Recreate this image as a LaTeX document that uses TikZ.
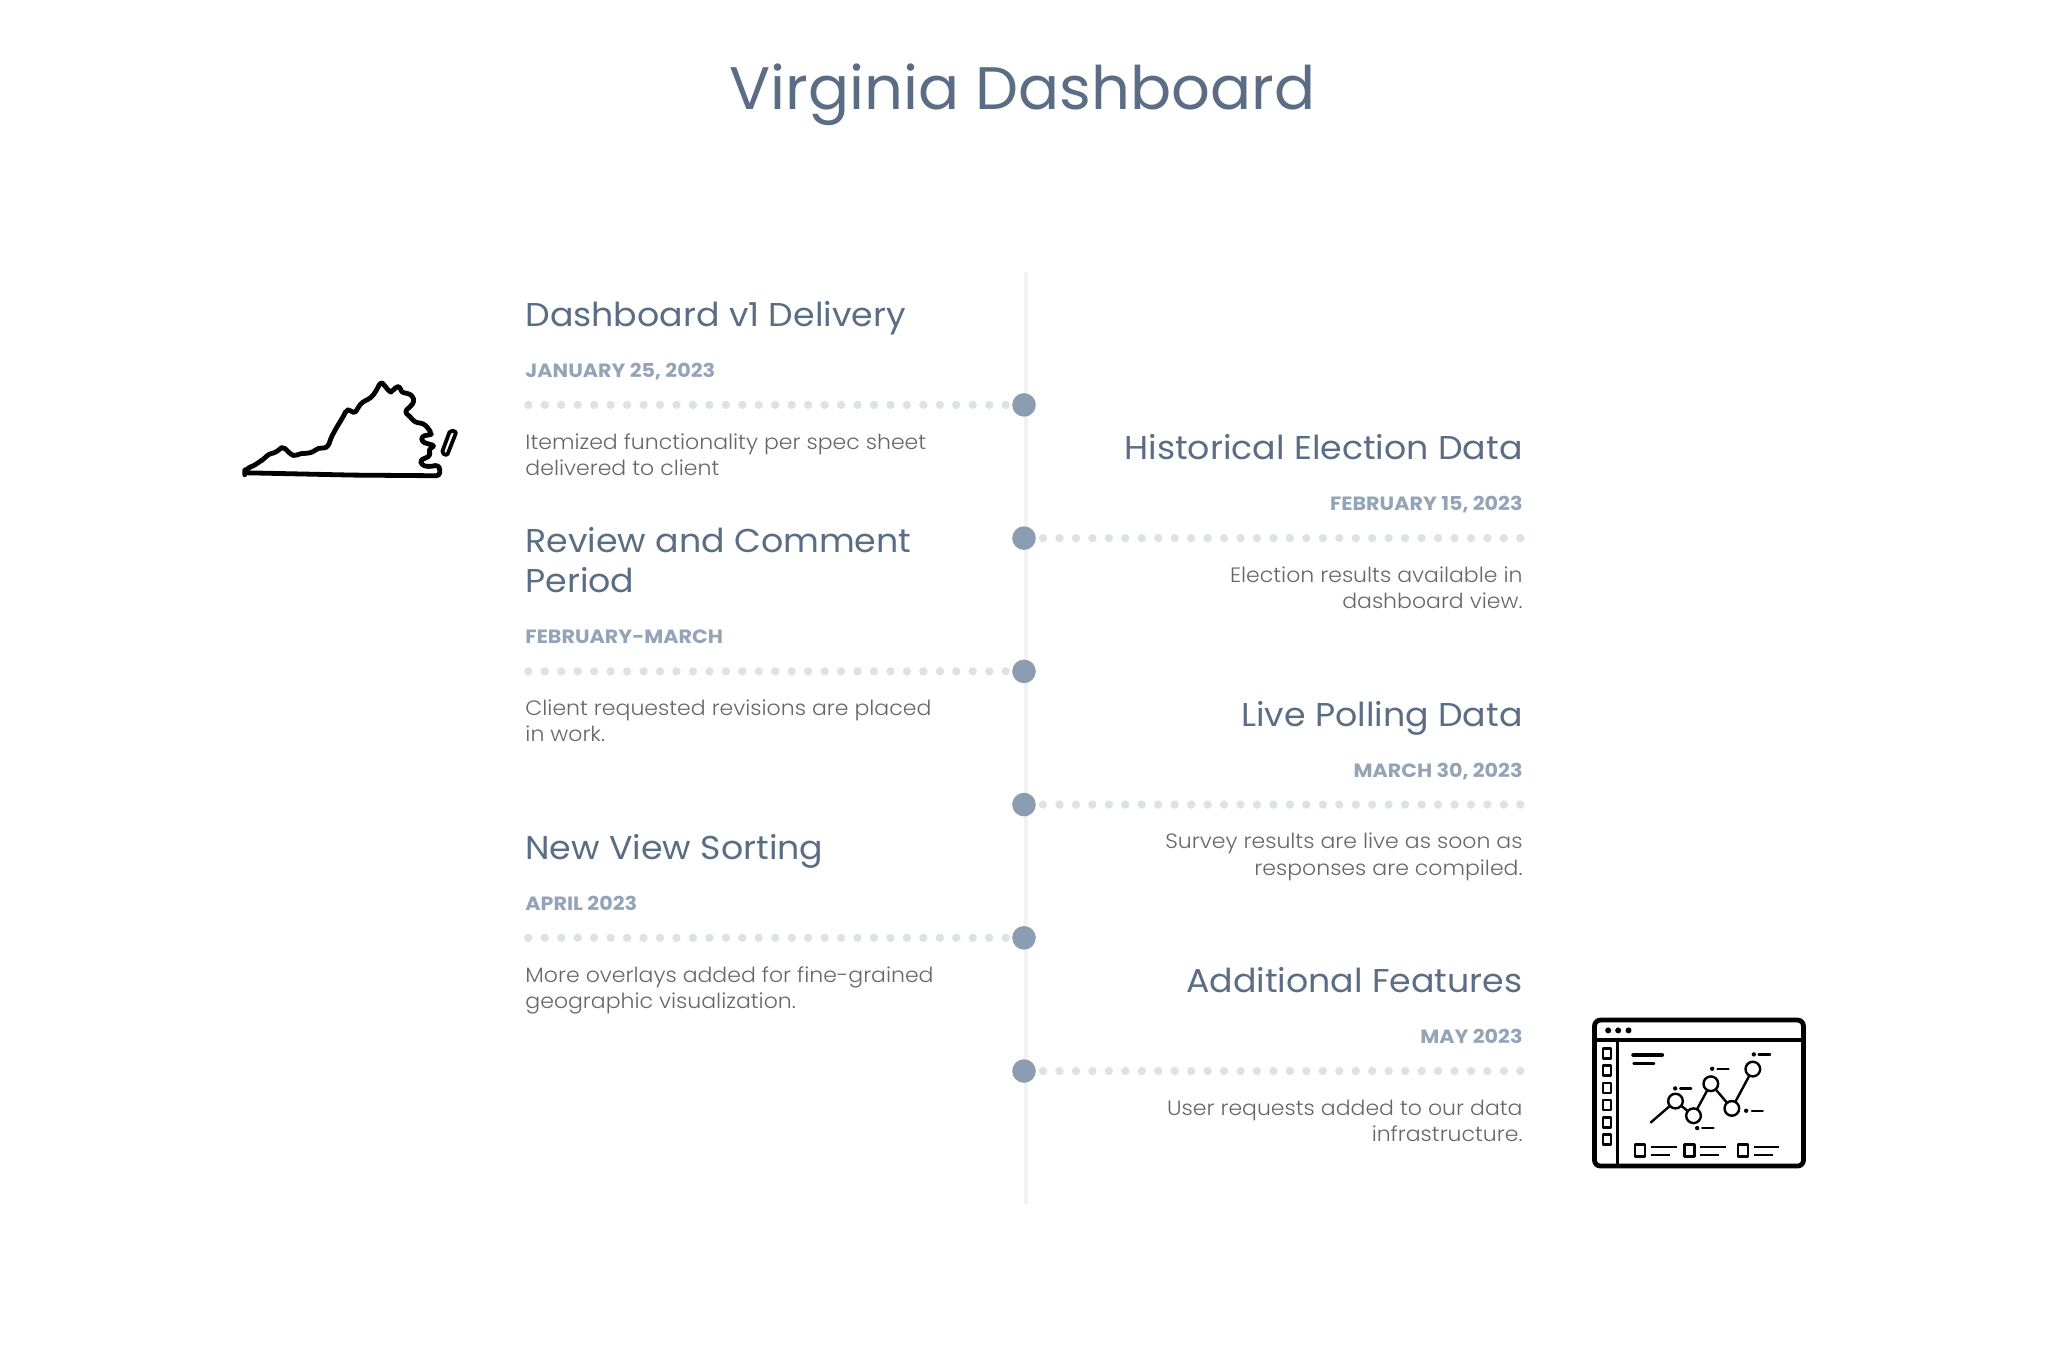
\documentclass[tikz,border=0pt]{standalone}
\usepackage{fontspec}
\setmainfont{Poppins}
\newfontfamily\plight[FakeStretch=1.058]{Poppins Light}
\newfontfamily\phead[FakeStretch=1.054]{Poppins}
\newfontfamily\pdate[FakeStretch=1.078]{Poppins}
\newfontfamily\ptitle[FakeStretch=1.014]{Poppins}
\definecolor{headc}{HTML}{5A6D85}
\definecolor{datec}{HTML}{94A4B8}
\definecolor{bodyc}{HTML}{666666}
\definecolor{dotc}{HTML}{DDE2E9}
\definecolor{markc}{HTML}{8C9DB2}
\definecolor{spine}{HTML}{F1F2F4}
\tikzset{
 titletext/.style={text=headc,font=\ptitle\fontsize{30}{36}\selectfont,inner sep=0pt,anchor=base},
 head/.style={text=headc,font=\phead\fontsize{16.5}{20.3}\selectfont,inner sep=0pt},
 datet/.style={text=datec,font=\pdate\fontsize{9.6}{12}\bfseries\selectfont,inner sep=0pt},
 bodyt/.style={text=bodyc,font=\plight\fontsize{10.4}{13.2}\selectfont,inner sep=0pt},
 lft/.style={anchor=base west,align=left},
 rgt/.style={anchor=base east,align=right},
 marknode/.style={circle,fill=markc,minimum size=11.8pt,inner sep=0pt},
 dotline/.style={dotc,line width=4.2pt,line cap=round,dash pattern=on 0pt off 8.23pt},
 spineline/.style={spine,line width=2pt},
}
\begin{document}
\begin{tikzpicture}[x=0.65306pt,y=-0.65306pt]
\useasboundingbox (0,0) rectangle (1568,1044.4);
\node[titletext] (title) at (783,83.5) {Virginia Dashboard};
\coordinate (top) at (785.5,208);
\coordinate (bot) at (785.5,922);
\draw[spineline] (top) -- (bot);
% left items
\foreach \n/\L in {a/310,c/514,e/718}{
  \node[marknode] (m\n) at (784,\L) {};
  \coordinate (f\n) at (404.5,\L);
  \draw[dotline] (f\n) -- (m\n);
}
\foreach \n/\L in {b/412,d/616,f/820}{
  \node[marknode] (m\n) at (784,\L) {};
  \coordinate (f\n) at (1164,\L);
  \draw[dotline] (f\n) -- (m\n);
}
\node[head,lft] (ha) at (402,250) {Dashboard v1 Delivery};
\node[datet,lft] (da) at (402,289) {JANUARY 25, 2023};
\node[bodyt,lft] (ba) at (402,344) {Itemized functionality per spec sheet};
\node[bodyt,lft] (ba2) at (402,364) {delivered to client};
\node[head,rgt] (hb) at (1166,352) {Historical Election Data};
\node[datet,rgt] (db) at (1166,391) {FEBRUARY 15, 2023};
\node[bodyt,rgt] (bb) at (1166,446) {Election results available in};
\node[bodyt,rgt] (bb2) at (1166,466) {dashboard view.};
\node[head,lft] (hc) at (402,423) {Review and Comment};
\node[head,lft] (hc2) at (402,454) {Period};
\node[datet,lft] (dc) at (402,493) {FEBRUARY-MARCH};
\node[bodyt,lft] (bc) at (402,548) {Client requested revisions are placed};
\node[bodyt,lft] (bc2) at (402,568) {in work.};
\node[head,rgt] (hd) at (1166,556) {Live Polling Data};
\node[datet,rgt] (dd) at (1166,595) {MARCH 30, 2023};
\node[bodyt,rgt] (bd) at (1166,650) {Survey results are live as soon as};
\node[bodyt,rgt] (bd2) at (1166,670) {responses are compiled.};
\node[head,lft] (he) at (402,658) {New View Sorting};
\node[datet,lft] (de) at (402,697) {APRIL 2023};
\node[bodyt,lft] (be) at (402,752) {More overlays added for fine-grained};
\node[bodyt,lft] (be2) at (402,772) {geographic visualization.};
\node[head,rgt] (hf) at (1166,760) {Additional Features};
\node[datet,rgt] (df) at (1166,799) {MAY 2023};
\node[bodyt,rgt] (bf) at (1166,854) {User requests added to our data};
\node[bodyt,rgt] (bf2) at (1166,874) {infrastructure.};
% Virginia outline
\begin{scope}[shift={(168.5,275.7)},scale=0.2552,line width=2.4pt,line join=round,line cap=round,black]
\draw[rounded corners=1.5pt] (74,335) -- (85,322) -- (100,318) -- (118,305) -- (130,298) -- (145,282) -- (165,278) -- (178,268) -- (188,260) -- (200,270) -- (212,283) -- (225,288) -- (240,280) -- (262,280) -- (280,275) -- (295,263) -- (312,265) -- (325,258) -- (332,235) -- (345,210) -- (360,185) -- (372,165) -- (380,148) -- (392,152) -- (405,160) -- (415,140) -- (428,125) -- (445,118) -- (460,105) -- (472,85) -- (482,65) -- (493,75) -- (505,92) -- (515,97) -- (525,82) -- (540,78) -- (543,97) -- (565,100) -- (578,108) -- (583,125) -- (570,140) -- (553,155) -- (570,170) -- (585,187) -- (610,190) -- (625,205) -- (635,222) -- (625,225) -- (605,228) -- (605,245) -- (620,250) -- (645,257) -- (625,268) -- (632,285) -- (615,295) -- (600,300) -- (605,315) -- (625,320) -- (655,315) -- (660,330) -- (658,347) -- (400,345) -- (74,338) -- cycle;
\draw[rounded corners=1pt,line width=1.9pt] (690,211) -- (709,215) -- (681,286) -- (665,279) -- cycle;
\end{scope}
% dashboard icon
\begin{scope}[shift={(1209.8,769.5)},scale=0.2552,line join=round,black]
\draw[line width=2.4pt,rounded corners=3pt] (43,483) -- (43,45) -- (670,45) -- (670,483) -- cycle;
\draw[line width=2.4pt] (43,105) -- (670,105);
\draw[line width=1.1pt] (112,105) -- (112,483);
\foreach \x in {84,114,145} \fill (\x,76) circle (9);
\foreach \y in {130,182,234,285,337,388} \draw[line width=1.3pt] (68,\y) rectangle (92,\y+30);
\draw[line width=2.3pt,line cap=round] (160,150) -- (245,150);
\draw[line width=1.1pt,line cap=round] (160,175) -- (222,175);
\draw[line width=1.2pt,line cap=round] (212,352) -- (286,288) -- (340,332) -- (392,236) -- (455,310) -- (518,192);
\foreach \x/\y in {286/288,340/332,392/236,455/310,518/192}
  \draw[line width=1.2pt,fill=white] (\x,\y) circle (22);
\foreach \x/\y/\a/\b in {285/250/300/333,396/191/412/445,521/148/535/570,498/317/515/548,351/369/366/400}{
  \fill (\x,\y) circle (6.5);
  \draw[line width=1.1pt,line cap=round] (\a,\y) -- (\b,\y);
}
\foreach \x in {165,313,473}{
  \draw[line width=1.3pt] (\x,418) rectangle (\x+30,455);
  \draw[line width=1.1pt] (\x+47,425) -- (\x+124,425);
  \draw[line width=1.1pt] (\x+47,449) -- (\x+104,449);
}
\end{scope}
\end{tikzpicture}
\end{document}
